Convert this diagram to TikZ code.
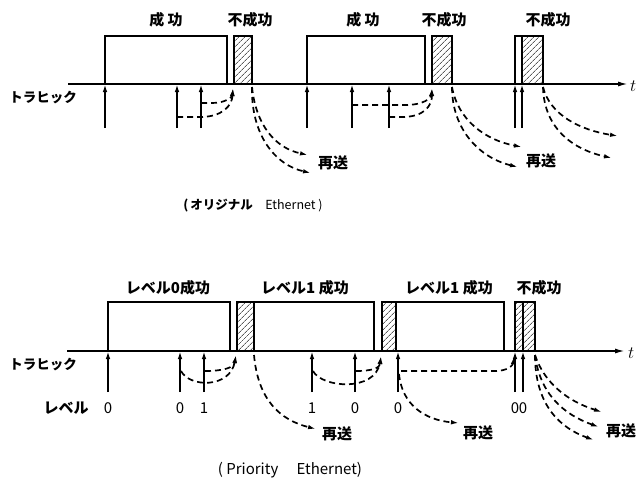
\documentclass[tikz,border=0pt]{standalone}
\usepackage{fontspec}
\setmainfont{Noto Sans CJK JP}
\usetikzlibrary{arrows.meta,patterns.meta}
\tikzset{
  box/.style={draw, line width=2pt, inner sep=0pt, outer sep=0pt, anchor=south west},
  hbox/.style={box, pattern={Lines[angle=45,distance=4pt,line width=0.6pt]}},
  axis/.style={line width=1.6pt, -{Latex[length=10pt,width=5pt]}},
  up/.style={line width=2pt, -{Latex[length=8pt,width=4.5pt]}},
  retry/.style={line width=1.7pt, dash pattern=on 6pt off 4pt, -{Latex[length=8pt,width=4.5pt]}},
  lbl/.style={inner sep=0pt, font=\fontsize{15}{15}\selectfont\bfseries},
  small/.style={inner sep=0pt, font=\fontsize{13.5}{13.5}\selectfont\bfseries},
  digit/.style={inner sep=0pt, font=\fontsize{15}{15}\selectfont},
}
\begin{document}
\begin{tikzpicture}[x=1pt,y=-1pt]
\useasboundingbox (0,0) rectangle (639,488);

% ================= top : original Ethernet =================
\coordinate (A1s) at (68,84);
\coordinate (A1e) at (628,84);
\draw[axis] (A1s) -- (A1e);
\node[digit, anchor=west, font=\fontsize{17}{17}\selectfont] (t1) at (630,86) {$t$};
\node[small] (tr1) at (43,98) {トラヒック};

\node[box, minimum width=122pt, minimum height=48pt] (s1) at (105,84) {};
\node[hbox, minimum width=18pt, minimum height=48pt] (c1) at (234,84) {};
\node[box, minimum width=118pt, minimum height=48pt] (s2) at (307,84) {};
\node[hbox, minimum width=20pt, minimum height=48pt] (c2) at (432,84) {};
\node[box, minimum width=7pt, minimum height=48pt] (c3a) at (515,84) {};
\node[hbox, minimum width=21pt, minimum height=48pt] (c3b) at (522,84) {};

\node[lbl] (l1) at (166,20) {成 功};
\node[lbl] (l2) at (250,20) {不成功};
\node[lbl] (l3) at (363,20) {成 功};
\node[lbl] (l4) at (444,20) {不成功};
\node[lbl] (l5) at (548,20) {不成功};

\foreach \n/\x in {a/105,b/177,c/201,d/307,e/352,f/389,g/515,h/522}{
  \coordinate (tu\n) at (\x,128);
  \draw[up] (tu\n) -- (tu\n |- A1s);
}

% waiting stations into collisions
\coordinate (k1) at (233,88);
\draw[retry] (201,103) -- (212,103) .. controls (226,103) and (232,97) .. (k1);
\draw[retry] (177,117) -- (200,117) .. controls (222,117) and (232,106) .. (k1);
\coordinate (k2) at (432,88);
\draw[retry] (352,105) -- (405,105) .. controls (424,105) and (431,98) .. (k2);
\draw[retry] (389,117) -- (402,117) .. controls (424,117) and (432,106) .. (k2);

% retransmissions
\coordinate (r1) at (252,87);
\draw[retry] (r1) .. controls (256,125) and (275,148) .. (308,155);
\draw[retry] (r1) .. controls (251,135) and (275,165) .. (311,173);
\node[lbl] (re1) at (333,163) {再送};
\coordinate (r2) at (452,87);
\draw[retry] (r2) .. controls (458,120) and (485,140) .. (522,147);
\draw[retry] (r2) .. controls (452,130) and (480,158) .. (518,167);
\node[lbl] (re2) at (541,161) {再送};
\coordinate (r3) at (543,87);
\draw[retry] (r3) .. controls (550,115) and (580,130) .. (618,136);
\draw[retry] (r3) .. controls (544,130) and (575,150) .. (612,158);

\node[inner sep=0pt, font=\fontsize{12.5}{12.5}\selectfont\bfseries] (cap1) at (253,206) {(\,オリジナル\quad\mdseries Ethernet )};

% ================= bottom : Priority Ethernet =================
\coordinate (A2s) at (67,351);
\coordinate (A2e) at (625,351);
\draw[axis] (A2s) -- (A2e);
\node[digit, anchor=west, font=\fontsize{17}{17}\selectfont] (t2) at (628,353) {$t$};
\node[small] (tr2) at (43,365) {トラヒック};

\node[box, minimum width=122pt, minimum height=49pt] (sA) at (108,351) {};
\node[hbox, minimum width=17pt, minimum height=49pt] (cA) at (237,351) {};
\node[box, minimum width=120pt, minimum height=49pt] (sB) at (254,351) {};
\node[hbox, minimum width=14pt, minimum height=49pt] (cB) at (382,351) {};
\node[box, minimum width=108pt, minimum height=49pt] (sC) at (396,351) {};
\node[hbox, minimum width=8pt, minimum height=49pt] (cCa) at (515,351) {};
\node[hbox, minimum width=12pt, minimum height=49pt] (cCb) at (523,351) {};

\node[lbl] (m1) at (168,288) {レベル0成功};
\node[lbl] (m2) at (305,288) {レベル1 成功};
\node[lbl] (m3) at (449,288) {レベル1 成功};
\node[lbl] (m4) at (539,288) {不成功};

\foreach \n/\x/\v in {a/108/0,b/180/0,c/204/1,d/312/1,e/355/0,f/398/0,g/515/0,h/523/0}{
  \coordinate (bu\n) at (\x,392);
  \draw[up] (bu\n) -- (bu\n |- A2s);
  \node[digit] (lv\n) at (\x,408) {\v};
}
\node[lbl] (lvl) at (66,408) {レベル};

% waiting stations into collisions
\coordinate (q1) at (236,355);
\draw[retry] (181,371) .. controls (190,388) and (230,388) .. (q1);
\draw[retry] (205,371) .. controls (222,371) and (234,368) .. (q1);
\coordinate (q2) at (381,356);
\draw[retry] (313,371) .. controls (322,388) and (375,392) .. (q2);
\draw[retry] (356,371) .. controls (372,371) and (380,368) .. (q2);
\coordinate (q3) at (514,356);
\draw[retry] (401,371) -- (495,371) .. controls (508,371) and (513,365) .. (q3);

% retransmissions
\coordinate (p1) at (254,355);
\draw[retry] (p1) .. controls (258,400) and (280,420) .. (316,429);
\node[lbl] (rb1) at (337,434) {再送};
\coordinate (p2) at (399,374);
\draw[retry] (p2) .. controls (402,405) and (425,420) .. (459,423);
\node[lbl] (rb2) at (478,433) {再送};
\coordinate (p3) at (535,355);
\draw[retry] (p3) .. controls (545,385) and (570,402) .. (602,412);
\draw[retry] (p3) .. controls (540,395) and (565,415) .. (599,427);
\draw[retry] (p3) .. controls (535,405) and (560,428) .. (594,440);
\node[lbl] (rb3) at (621,431) {再送};

\node[digit] (cap2) at (290,470) {( Priority\quad\ Ethernet)};
\end{tikzpicture}
\end{document}
